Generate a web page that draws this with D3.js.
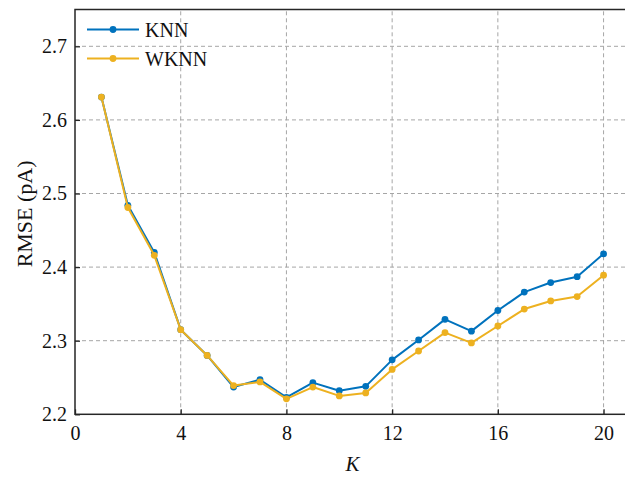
<!DOCTYPE html>
<html>
<head>
<meta charset="utf-8">
<script src="https://cdn.jsdelivr.net/npm/d3@7"></script>
<style>
  html, body { margin: 0; padding: 0; background: #fff; }
  svg { display: block; }
  text { font-family: "Liberation Serif", "Times New Roman", serif; fill: #111; }
</style>
</head>
<body>
<svg id="chart" width="625" height="477"></svg>
<script>
// K values and RMSE (pA) for both estimators
const kValues = [1, 2, 3, 4, 5, 6, 7, 8, 9, 10, 11, 12, 13, 14, 15, 16, 17, 18, 19, 20];
const knnRmse = [2.631, 2.484, 2.420, 2.315, 2.280, 2.237, 2.247, 2.223, 2.243, 2.232, 2.238, 2.274,
                 2.301, 2.329, 2.313, 2.341, 2.366, 2.379, 2.387, 2.418];
const wknnRmse = [2.631, 2.481, 2.416, 2.315, 2.280, 2.239, 2.244, 2.221, 2.237, 2.225, 2.229, 2.261,
                  2.286, 2.311, 2.297, 2.320, 2.343, 2.354, 2.360, 2.389];
const xTicks = [0, 4, 8, 12, 16, 20];
const yTicks = [2.2, 2.3, 2.4, 2.5, 2.6, 2.7];
const seriesNames = ["KNN", "WKNN"];
const seriesColors = ["#0072BD", "#EDB120"];

const svg = d3.select("#chart");
const margin = { left: 75, top: 9.5, bottom: 414.3 };
const plotRight = 630; // frame extends slightly beyond the canvas

const x = d3.scaleLinear().domain([0, 21]).range([margin.left, plotRight]);
const y = d3.scaleLinear().domain([2.2, 2.75]).range([margin.bottom, margin.top]);

// dashed grid
const grid = svg.append("g");
grid.selectAll("line.vg").data(xTicks.filter(d => d > 0)).enter().append("line")
  .attr("x1", d => x(d)).attr("x2", d => x(d))
  .attr("y1", y(2.2)).attr("y2", y(2.75))
  .attr("stroke", "#a6a6a6").attr("stroke-width", 1).attr("stroke-dasharray", "4,3");
grid.selectAll("line.hg").data(yTicks.filter(d => d > 2.2)).enter().append("line")
  .attr("x1", x(0)).attr("x2", plotRight)
  .attr("y1", d => y(d)).attr("y2", d => y(d))
  .attr("stroke", "#a6a6a6").attr("stroke-width", 1).attr("stroke-dasharray", "4,3");

// axes with inward ticks
const xAxis = d3.axisBottom(x).tickValues(xTicks).tickFormat(d3.format("d"))
  .tickSizeInner(-5).tickSizeOuter(0).tickPadding(12);
const yAxis = d3.axisLeft(y).tickValues(yTicks).tickFormat(d3.format(".1f"))
  .tickSizeInner(-5).tickSizeOuter(0).tickPadding(8);

const gx = svg.append("g").attr("transform", `translate(0,${margin.bottom})`).call(xAxis);
const gy = svg.append("g").attr("transform", `translate(${margin.left},0)`).call(yAxis);
[gx, gy].forEach(g => {
  g.select(".domain").remove();
  g.selectAll(".tick line").attr("stroke", "#262626").attr("stroke-width", 1.3);
  g.selectAll(".tick text").attr("font-size", 20).attr("fill", "#111")
    .style("font-family", '"Liberation Serif", "Times New Roman", serif');
});

// frame
svg.append("rect")
  .attr("x", x(0)).attr("y", y(2.75))
  .attr("width", plotRight - x(0)).attr("height", y(2.2) - y(2.75))
  .attr("fill", "none").attr("stroke", "#262626").attr("stroke-width", 1.5);

// series lines and markers
const seriesData = [knnRmse, wknnRmse];
const line = d3.line().x(d => x(d[0])).y(d => y(d[1]));
seriesData.forEach((vals, i) => {
  const pts = kValues.map((k, j) => [k, vals[j]]);
  svg.append("path").datum(pts).attr("d", line)
    .attr("fill", "none").attr("stroke", seriesColors[i]).attr("stroke-width", 2)
    .attr("stroke-linejoin", "round");
  svg.append("g").selectAll("circle").data(pts).enter().append("circle")
    .attr("cx", d => x(d[0])).attr("cy", d => y(d[1])).attr("r", 3.4)
    .attr("fill", seriesColors[i]);
});

// axis titles
svg.append("text")
  .attr("transform", `translate(32,${(margin.top + margin.bottom) / 2 + 2}) rotate(-90)`)
  .attr("text-anchor", "middle").attr("font-size", 22).text("RMSE (pA)");
svg.append("text")
  .attr("x", x(10.5)).attr("y", 471).attr("text-anchor", "middle")
  .attr("font-size", 21).attr("font-style", "italic").text("K");

// legend
const legend = svg.append("g");
seriesNames.forEach((name, i) => {
  const ly = 29.5 + i * 29;
  legend.append("line").attr("x1", 87).attr("x2", 139).attr("y1", ly).attr("y2", ly)
    .attr("stroke", seriesColors[i]).attr("stroke-width", 2);
  legend.append("circle").attr("cx", 113).attr("cy", ly).attr("r", 3.4).attr("fill", seriesColors[i]);
  legend.append("text").attr("x", 145).attr("y", ly + 7).attr("font-size", 20).text(name);
});
</script>
</body>
</html>
